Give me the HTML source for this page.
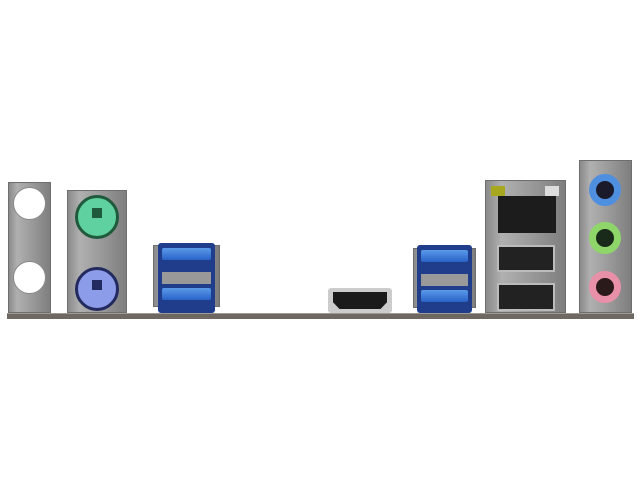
<!DOCTYPE html>
<html><head><style>
body{margin:0;background:#fff;width:640px;height:480px;overflow:hidden;position:relative;font-family:"Liberation Sans",sans-serif}
div{position:absolute;box-sizing:border-box}
.m{background:linear-gradient(90deg,#8a8a8a,#b0b0b0 20%,#989898 60%,#7e7e7e);border:1px solid #6e6e6e}
.hole{background:#fff;border-radius:50%;border:1px solid #888}
.usb{background:#1f3d8a;border-radius:3px}
.bl{background:linear-gradient(#5a9ae8,#2a62c8);border-radius:2px}
.slot{background:#222;border:2px solid #bbb}
.jack{border-radius:50%}
</style></head><body>
<div style="left:7px;top:313px;width:627px;height:6px;background:#6e6862;border-top:1px solid #a09a94"></div>
<div class="m" style="left:8px;top:182px;width:43px;height:131px"></div>
<div class="hole" style="left:13px;top:187px;width:33px;height:33px"></div>
<div class="hole" style="left:13px;top:261px;width:33px;height:33px"></div>
<div class="m" style="left:67px;top:190px;width:60px;height:123px"></div>
<div class="jack" style="left:75px;top:195px;width:44px;height:44px;background:#5fd0a0;border:3px solid #1f5a3c"></div>
<div style="left:92px;top:208px;width:10px;height:10px;background:#1f5a3c"></div>
<div class="jack" style="left:75px;top:267px;width:44px;height:44px;background:#8d9ce8;border:3px solid #222a60"></div>
<div style="left:92px;top:280px;width:10px;height:10px;background:#222a60"></div>
<div class="m" style="left:153px;top:245px;width:67px;height:62px"></div>
<div class="usb" style="left:158px;top:243px;width:57px;height:70px"></div>
<div class="bl" style="left:162px;top:248px;width:49px;height:12px"></div>
<div style="left:162px;top:272px;width:49px;height:12px;background:#999"></div>
<div class="bl" style="left:162px;top:288px;width:49px;height:12px"></div>
<div style="left:328px;top:288px;width:64px;height:25px;background:#ccc;border-radius:3px"></div>
<div style="left:333px;top:292px;width:54px;height:17px;background:#1a1a1a;clip-path:polygon(0 0,100% 0,100% 60%,88% 100%,12% 100%,0 60%)"></div>
<div class="m" style="left:413px;top:248px;width:63px;height:60px"></div>
<div class="usb" style="left:417px;top:245px;width:55px;height:68px"></div>
<div class="bl" style="left:421px;top:250px;width:47px;height:12px"></div>
<div style="left:421px;top:274px;width:47px;height:12px;background:#999"></div>
<div class="bl" style="left:421px;top:290px;width:47px;height:12px"></div>
<div class="m" style="left:485px;top:180px;width:81px;height:133px"></div>
<div style="left:491px;top:186px;width:14px;height:10px;background:#a8a820"></div>
<div style="left:545px;top:186px;width:14px;height:10px;background:#ddd"></div>
<div style="left:498px;top:196px;width:58px;height:37px;background:#1c1c1c"></div>
<div class="slot" style="left:497px;top:245px;width:58px;height:27px"></div>
<div class="slot" style="left:497px;top:283px;width:58px;height:28px"></div>
<div class="m" style="left:579px;top:160px;width:53px;height:153px"></div>
<div class="jack" style="left:589px;top:174px;width:32px;height:32px;background:#1a1a2a;border:7px solid #4f8fe0"></div>
<div class="jack" style="left:589px;top:222px;width:32px;height:32px;background:#1a2a1a;border:7px solid #8ed66a"></div>
<div class="jack" style="left:589px;top:271px;width:32px;height:32px;background:#2a1a1a;border:7px solid #e890a8"></div>
</body></html>
